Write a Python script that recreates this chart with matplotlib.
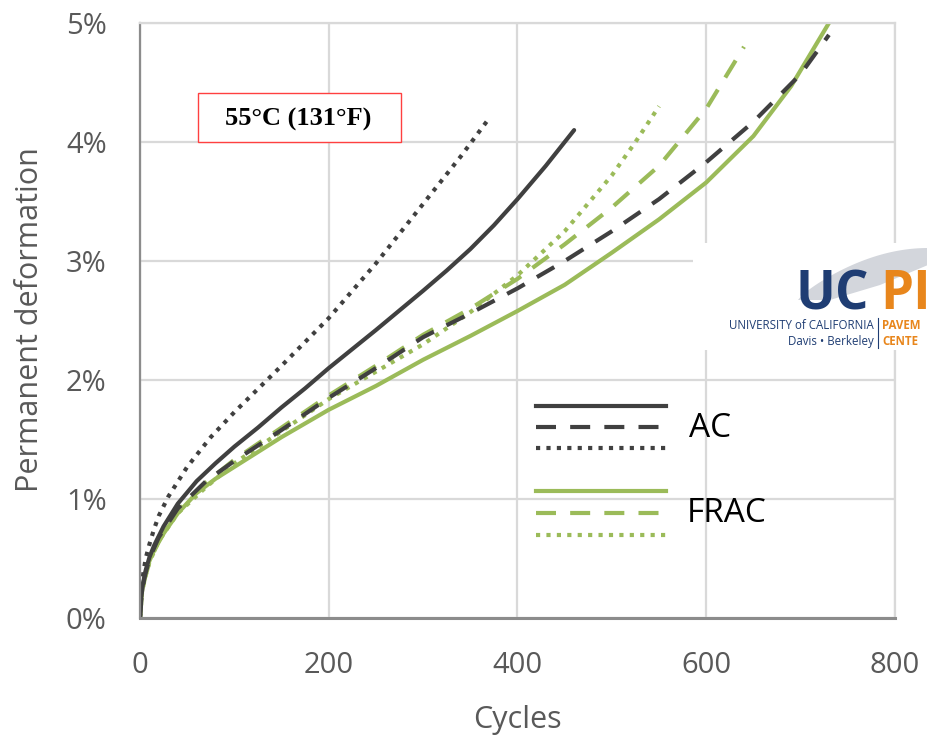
import matplotlib.pyplot as plt
from matplotlib.lines import Line2D
from matplotlib.patches import Rectangle, Polygon
import numpy as np

#%% data (cycles, permanent deformation in %)
ac_solid_x = [0, 1, 3, 6, 10, 15, 25, 40, 60, 80, 100, 125, 150, 175, 200, 250, 300, 325, 350, 375, 400, 430, 460]
ac_solid_y = [0, 0.15, 0.28, 0.4, 0.51, 0.61, 0.77, 0.96, 1.15, 1.3, 1.44, 1.6, 1.77, 1.93, 2.1, 2.42, 2.75, 2.92, 3.1, 3.3, 3.52, 3.8, 4.1]

ac_dash_x = [0, 2, 5, 10, 20, 40, 70, 100, 150, 200, 250, 300, 350, 400, 450, 500, 550, 600, 650, 700, 730]
ac_dash_y = [0, 0.22, 0.35, 0.5, 0.68, 0.92, 1.15, 1.32, 1.58, 1.85, 2.1, 2.36, 2.56, 2.77, 3.0, 3.25, 3.52, 3.83, 4.17, 4.57, 4.9]

ac_dot_x = [0, 1, 3, 6, 10, 15, 20, 30, 50, 75, 100, 150, 200, 250, 300, 340, 370]
ac_dot_y = [0, 0.2, 0.35, 0.5, 0.62, 0.75, 0.86, 1.02, 1.27, 1.52, 1.73, 2.12, 2.52, 2.98, 3.48, 3.88, 4.2]

frac_solid_x = [0, 1, 3, 6, 10, 15, 25, 40, 60, 80, 100, 150, 200, 250, 300, 350, 400, 450, 500, 550, 600, 650, 690, 730]
frac_solid_y = [0, 0.15, 0.27, 0.38, 0.48, 0.57, 0.71, 0.88, 1.05, 1.17, 1.27, 1.52, 1.75, 1.95, 2.17, 2.37, 2.58, 2.8, 3.07, 3.35, 3.66, 4.05, 4.47, 5.0]

frac_dash_x = [0, 2, 5, 10, 20, 40, 70, 100, 150, 200, 250, 300, 350, 400, 450, 500, 550, 600, 640]
frac_dash_y = [0, 0.2, 0.33, 0.47, 0.65, 0.9, 1.14, 1.33, 1.6, 1.87, 2.12, 2.38, 2.6, 2.85, 3.14, 3.45, 3.8, 4.28, 4.8]

frac_dot_x = [0, 2, 5, 10, 20, 40, 70, 100, 150, 200, 250, 300, 350, 400, 450, 500, 525, 550]
frac_dot_y = [0, 0.2, 0.33, 0.47, 0.65, 0.88, 1.1, 1.3, 1.57, 1.84, 2.07, 2.3, 2.57, 2.88, 3.25, 3.72, 4.0, 4.3]

x_ticks = [0, 200, 400, 600, 800]
y_ticks = [0, 1, 2, 3, 4, 5]

#%% style
dark = '#404040'
green = '#9BBB59'
grid_c = '#D9D9D9'
txt_c = '#595959'
lw = 3
dash = (4.8, 3.4)
dot = (1, 1.5)
W, H = 928, 744

plt.rcParams['font.family'] = ['Open Sans', 'DejaVu Sans']

fig = plt.figure(figsize=(W / 100, H / 100), dpi=100)
ax = fig.add_axes([140 / W, 1 - 618 / H, 755 / W, 595 / H])

ax.plot(frac_solid_x, frac_solid_y, color=green, lw=lw, solid_capstyle='round', solid_joinstyle='round')
ax.plot(frac_dash_x, frac_dash_y, color=green, lw=lw, dashes=dash)
ax.plot(frac_dot_x, frac_dot_y, color=green, lw=lw, dashes=dot)
ax.plot(ac_solid_x, ac_solid_y, color=dark, lw=lw, solid_capstyle='round', solid_joinstyle='round')
ax.plot(ac_dash_x, ac_dash_y, color=dark, lw=lw, dashes=dash)
ax.plot(ac_dot_x, ac_dot_y, color=dark, lw=lw, dashes=dot)

ax.set_xlim(0, 800)
ax.set_ylim(0, 5)
ax.set_xticks(x_ticks)
ax.set_yticks(y_ticks)
ax.set_yticklabels([f'{v}%' for v in y_ticks])
ax.tick_params(length=0, labelsize=21, labelcolor=txt_c, pad=24)
ax.grid(True, color=grid_c, lw=1.6)
ax.set_axisbelow(True)
for s in ['top', 'right']:
    ax.spines[s].set_color(grid_c)
    ax.spines[s].set_linewidth(1.6)
ax.spines['left'].set_color('#8C8C8C')
ax.spines['left'].set_linewidth(1.6)
ax.spines['bottom'].set_color('#8C8C8C')
ax.spines['bottom'].set_linewidth(2.2)

fig.text(517 / W, 1 - 720 / H, 'Cycles', ha='center', va='center', fontsize=22, color=txt_c)
fig.text(30 / W, 1 - 320 / H, 'Permanent deformation', ha='center', va='center',
         rotation=90, fontsize=22, color=txt_c)

#%% legend drawn by hand, like in the original
def fx(p):
    return p / W

def fy(p):
    return 1 - p / H

leg = [(406, dark, None), (427, dark, dash), (448, dark, dot),
       (491, green, None), (513, green, dash), (535, green, dot)]
for yy, c, d in leg:
    ln = Line2D([fx(536), fx(666)], [fy(yy), fy(yy)], transform=fig.transFigure,
                color=c, lw=lw)
    if d is not None:
        ln.set_dashes(d)
    fig.add_artist(ln)
fig.text(fx(689), fy(428), 'AC', ha='left', va='center', fontsize=24, color='black')
fig.text(fx(687), fy(513), 'FRAC', ha='left', va='center', fontsize=24, color='black')

#%% temperature box
fig.add_artist(Rectangle((fx(198), fy(142)), 203 / W, 49 / H, transform=fig.transFigure,
                         facecolor='white', edgecolor='#FF4040', lw=1))
fig.text(fx(298), fy(119), '55°C (131°F)', ha='center', va='center', fontsize=19,
         fontweight='bold', family=['Liberation Serif', 'DejaVu Serif'])

#%% logo area
fig.add_artist(Rectangle((fx(693), fy(350)), (W - 693) / W, 107 / H,
                         transform=fig.transFigure, facecolor='white', edgecolor='none'))
t = np.linspace(0, 1, 40)
top_x = 798 + (928 - 798) * t
top_y = 300 - 52 * np.sin(t * np.pi / 2) ** 0.8
bot_x = 880 + (928 - 880) * t[::-1]
bot_y = 285 - 20 * t[::-1]
pts = [(fx(a), fy(b)) for a, b in zip(top_x, top_y)] + \
      [(fx(a), fy(b)) for a, b in zip(bot_x, bot_y)] + [(fx(830), fy(300))]
fig.add_artist(Polygon(pts, closed=True, transform=fig.transFigure,
                       facecolor='#D3D6DC', edgecolor='none'))
navy = '#1F3D73'
orange = '#E8861C'
fig.text(fx(795), fy(309), 'UC', ha='left', va='baseline', fontsize=38,
         fontweight='bold', color=navy, family='Open Sans')
fig.text(fx(880), fy(309), 'PI', ha='left', va='baseline', fontsize=38,
         fontweight='bold', color=orange, family='Open Sans')
fig.text(fx(874), fy(329), 'UNIVERSITY of CALIFORNIA', ha='right', va='baseline',
         fontsize=8.3, color=navy)
fig.text(fx(874), fy(345), 'Davis • Berkeley', ha='right', va='baseline',
         fontsize=8.3, color=navy)
fig.add_artist(Line2D([fx(878), fx(878)], [fy(318), fy(348)], transform=fig.transFigure,
                      color=navy, lw=0.8))
fig.text(fx(882), fy(329), 'PAVEM', ha='left', va='baseline', fontsize=8.3,
         fontweight='bold', color=orange)
fig.text(fx(882), fy(345), 'CENTE', ha='left', va='baseline', fontsize=8.3,
         fontweight='bold', color=orange)

fig.savefig('out.png', dpi=100)
